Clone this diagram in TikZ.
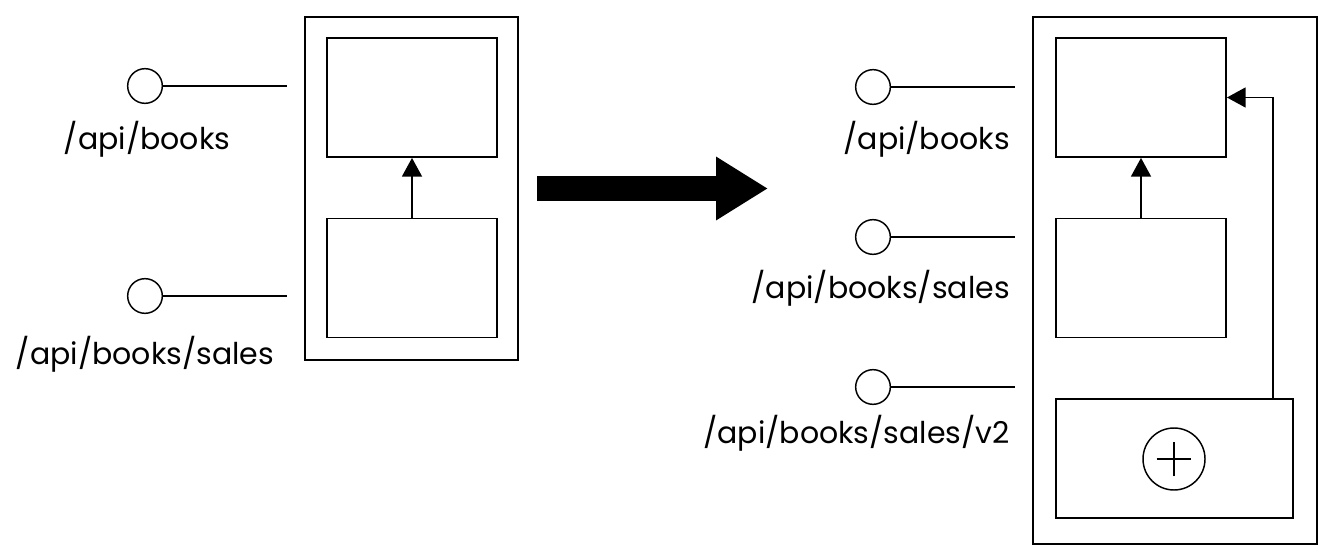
\documentclass[tikz,border=0pt]{standalone}
\usepackage{fontspec}
\setmainfont{Poppins}
\usetikzlibrary{arrows.meta}

\tikzset{
  box/.style={draw, line width=1.4pt, inner sep=0pt, minimum width=127.5pt, minimum height=89.25pt},
  frame/.style={draw, line width=1.4pt, inner sep=0pt},
  port/.style={draw, circle, line width=1.1pt, inner sep=0pt, minimum size=26pt},
  wire/.style={line width=1.1pt, shorten >=12.75pt},
  flow/.style={line width=1.1pt, -{Triangle[length=14pt,width=15pt]}},
  route/.style={font=\fontsize{22.5}{27}\selectfont, inner sep=0pt},
  plus/.style={draw, circle, line width=1.1pt, inner sep=0pt, minimum size=46.5pt,
    path picture={
      \draw[line width=1.1pt] ([xshift=-13pt]path picture bounding box.center) -- ([xshift=13pt]path picture bounding box.center);
      \draw[line width=1.1pt] ([yshift=-13pt]path picture bounding box.center) -- ([yshift=13pt]path picture bounding box.center);
    }},
  bigarrow/.style={line width=18.75pt, -{Triangle[length=39pt,width=45pt]}},
}

\begin{document}
\begin{tikzpicture}[x=0.75pt, y=-0.75pt]
  \useasboundingbox (0,0) rectangle (1333,559);

  % before
  \node[frame, minimum width=159.75pt, minimum height=257.25pt] (old) at (411.5,188.5) {};
  \node[box] (oldbooks) at (412,97.5) {};
  \node[box] (oldsales) at (412,278) {};
  \draw[flow] (oldsales) -- (oldbooks);

  \node[port] (pbooks) at (145,86) {};
  \node[port] (psales) at (145,296) {};
  \node[route, anchor=base] (lbooks) at (147,150) {/api/books};
  \node[route, anchor=base] (lsales) at (145,364) {/api/books/sales};
  \draw[wire] (pbooks) -- (pbooks -| old.west);
  \draw[wire] (psales) -- (psales -| old.west);

  \coordinate (shaft) at (537,188.5);
  \coordinate (tip) at (768,188.5);
  \draw[bigarrow] (shaft) -- (tip);

  % after
  \node[frame, minimum width=213pt, minimum height=395.25pt] (new) at (1175,280.5) {};
  \node[box] (books) at (1141,97.5) {};
  \node[box] (sales) at (1141,278) {};
  \node[box, minimum width=177.75pt] (salesv2) at (1174.5,458.5) {};
  \node[plus] (extra) at (1174,459) {};
  \draw[flow] (sales) -- (books);
  \draw[flow] ([xshift=-15.75pt]salesv2.north east) |- (books.east);

  \foreach \name/\y/\base/\text in {qbooks/87/150/{/api/books},
                                    qsales/237/299/{/api/books/sales},
                                    qsalesv2/387/443/{/api/books/sales/v2}}
  {
    \node[port] (\name) at (873,\y) {};
    \node[route, anchor=base east] (l\name) at (1010,\base) {\text};
    \draw[wire] (\name) -- (\name -| new.west);
  }
\end{tikzpicture}
\end{document}
